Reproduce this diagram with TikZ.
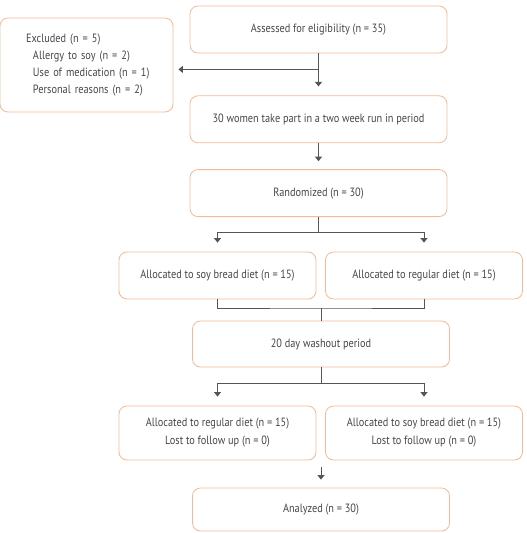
\documentclass[tikz,border=0pt]{standalone}
\usepackage{fontspec}
\setmainfont[FakeStretch=0.86]{PT Sans}
\usepackage{tikz}
\usetikzlibrary{arrows.meta, positioning, calc}
\usepackage{xcolor}
\definecolor{boxline}{RGB}{245, 185, 150}
\definecolor{linkgray}{RGB}{85, 85, 85}
\definecolor{textgray}{RGB}{70, 70, 70}
\tikzstyle{stage}   = [rectangle, rounded corners=8pt, minimum width=257pt, minimum height=47pt,
                       text centered, draw=boxline, line width=0.8pt, text=textgray,
                       font=\fontsize{12}{18}\selectfont, align=center]
\tikzstyle{arm}     = [stage, minimum width=197pt]
\tikzstyle{link}    = [draw=linkgray, line width=0.9pt]
\tikzstyle{arrow}   = [link, -{Triangle[length=4.5pt, width=7pt]}]

\begin{document}
\begin{tikzpicture}[x=1pt, y=1pt]
  \useasboundingbox (0,0) rectangle (527,-533);

  \node (assess) [stage] at (318.5,-29.5) {Assessed for eligibility (n = 35)};
  \node (runin)  [stage, below=42pt of assess] {30 women take part in a two week run in period};
  \node (rand)   [stage, below=26pt of runin]  {Randomized (n = 30)};
  \node (excl)   [stage, minimum width=173pt, minimum height=94pt, text width=135pt,
                  align=left, inner xsep=19pt] at (86.5,-65)
                 {\hspace*{7pt}Excluded (n = 5)\\[-1pt]
                  \hspace*{14pt}Allergy to soy (n = 2)\\[-1pt]
                  \hspace*{14pt}Use of medication (n = 1)\\[-1pt]
                  \hspace*{14pt}Personal reasons (n = 2)};

  \node (soyA)   [arm] at (217.5,-275.5) {Allocated to soy bread diet (n = 15)};
  \node (regA)   [arm] at (424,-275.5)   {Allocated to regular diet (n = 15)};
  \node (wash)   [stage, minimum height=46pt] at (321,-344) {20 day washout period};
  \node (regB)   [arm, minimum height=54pt] at (217.5,-433) {Allocated to regular diet (n = 15)\\Lost to follow up (n = 0)};
  \node (soyB)   [arm, minimum height=54pt] at (424,-433)   {Allocated to soy bread diet (n = 15)\\Lost to follow up (n = 0)};
  \node (result) [stage, minimum height=43pt] at (321,-509.5) {Analyzed (n = 30)};

  \coordinate (split) at ($(assess.south)+(0,-16)$);
  \coordinate (join)  at (321,-308);
  \coordinate (merge) at (321,-467);

  \draw [arrow, shorten >=9pt] (assess) -- (runin);
  \draw [arrow, shorten >=5pt] (split) -- (split -| excl.east);
  \draw [arrow, shorten >=8pt] (runin) -- (rand);
  \draw [arrow, shorten >=9pt] (rand.south) -- ++(0,-15) -| (soyA.north);
  \draw [arrow, shorten >=9pt] (rand.south) -- ++(0,-15) -| (regA.north);
  \draw [link] (soyA.south) |- (join) -| (regA.south);
  \draw [link] (join) -- (wash);
  \draw [arrow, shorten >=9pt] (wash.south) -- ++(0,-16) -| (regB.north);
  \draw [arrow, shorten >=9pt] (wash.south) -- ++(0,-16) -| (soyB.north);
  \draw [arrow, shorten >=8pt] (merge) -- (result);
\end{tikzpicture}
\end{document}
